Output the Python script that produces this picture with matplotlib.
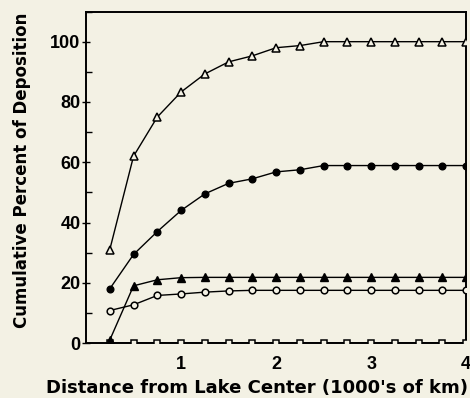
import matplotlib.pyplot as plt
from matplotlib.ticker import MultipleLocator

# distance from lake center (1000's of km)
distancia = [0.25, 0.5, 0.75, 1.0, 1.25, 1.5, 1.75, 2.0,
             2.25, 2.5, 2.75, 3.0, 3.25, 3.5, 3.75, 4.0]

# cumulative percent of deposition, one list per curve
serie_a = [31, 62, 75, 83.3, 89.3, 93.3, 95.3, 98, 98.7, 100, 100, 100, 100, 100, 100, 100]
serie_b = [18, 29.4, 37, 44, 49.5, 53, 54.5, 56.8, 57.5, 58.9, 58.9, 58.9, 58.9, 58.9, 58.9, 58.9]
serie_c = [1, 19, 21, 21.7, 21.8, 21.8, 21.8, 21.8, 21.8, 21.8, 21.8, 21.8, 21.8, 21.8, 21.8, 21.8]
serie_d = [10.8, 12.7, 15.8, 16.3, 16.9, 17.3, 17.5, 17.5, 17.5, 17.5, 17.5, 17.5, 17.5, 17.5, 17.5, 17.5]
serie_e = [0] * 16

fundo = '#f3f1e4'
plt.rcParams['font.family'] = ['Liberation Sans', 'DejaVu Sans']
plt.rcParams['font.weight'] = 'bold'

fig = plt.figure(figsize=(4.7, 3.98), dpi=100, facecolor=fundo)
ax = fig.add_axes([0.183, 0.138, 0.809, 0.833])
ax.set_facecolor(fundo)

ax.plot(distancia, serie_e, color='black', lw=1.8, marker='s', ms=4.5,
        mfc=fundo, mec='black', mew=1.1, zorder=3)
ax.plot(distancia, serie_d, color='black', lw=1.0, marker='o', ms=4.8,
        mfc=fundo, mec='black', mew=1.1, zorder=3)
ax.plot(distancia, serie_c, color='black', lw=1.0, marker='^', ms=5.5,
        mfc='black', mec='black', zorder=3)
ax.plot(distancia, serie_b, color='black', lw=1.0, marker='o', ms=4.8,
        mfc='black', mec='black', zorder=3)
ax.plot(distancia, serie_a, color='black', lw=1.0, marker='^', ms=5.5,
        mfc=fundo, mec='black', mew=1.1, zorder=3)

ax.set_xlim(0, 4)
ax.set_ylim(0, 110)
ax.set_xticks([1, 2, 3, 4])
ax.yaxis.set_major_locator(MultipleLocator(20))
ax.yaxis.set_minor_locator(MultipleLocator(10))
ax.set_yticks([0, 20, 40, 60, 80, 100])

ax.tick_params(axis='x', length=0, labelsize=13, pad=9)
ax.tick_params(axis='y', which='major', direction='inout', length=6, width=1, labelsize=13, pad=1)
ax.tick_params(axis='y', which='minor', direction='in', length=4, width=1)
for rotulo in ax.get_xticklabels() + ax.get_yticklabels():
    rotulo.set_fontweight('bold')

for lado in ax.spines.values():
    lado.set_linewidth(1.4)

ax.set_xlabel("Distance from Lake Center (1000's of km)", fontsize=13,
              fontweight='bold', family='DejaVu Sans')
ax.set_ylabel('Cumulative Percent of Deposition', fontsize=12,
              fontweight='bold', family='DejaVu Sans')
ax.xaxis.set_label_coords(0.451, -0.109)
ax.yaxis.set_label_coords(-0.145, 0.522)

plt.savefig('out.png', dpi=100, facecolor=fundo)
